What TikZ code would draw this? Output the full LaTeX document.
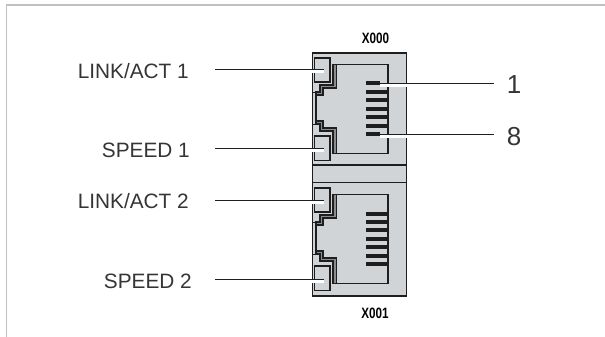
\documentclass[tikz,border=0pt]{standalone}
\usepackage{fontspec}
\setmainfont{Liberation Sans}
\newfontfamily\narrowfont[FakeStretch=0.78]{Liberation Sans}
\definecolor{housinggray}{HTML}{D1D4D7}
\definecolor{framegray}{HTML}{BCC1C4}
\definecolor{inkgray}{HTML}{1E1E1E}
\tikzset{
	label text/.style={inner sep=0pt, font=\fontsize{20.8}{24}\selectfont, text=inkgray!90},
	pin text/.style={inner sep=0pt, font=\fontsize{26}{30}\selectfont, text=inkgray!90},
	port name/.style={inner sep=0pt, font=\narrowfont\bfseries\fontsize{15}{17}\selectfont, text=black},
	outline/.style={line width=1.2pt, draw=inkgray},
	leader/.style={line width=1pt, draw=inkgray},
	halo/.style={line width=3.2pt, draw=white},
}
\begin{document}
\begin{tikzpicture}[x=1pt, y=-1pt]
		%%%%% START %%%%%
		\useasboundingbox (0, 0) rectangle (605, 337);

		\draw[line width=1.6pt, color=framegray] (605, 5) -- (6.5, 5) -- (6.5, 337);

		\draw[outline, fill=housinggray] (312.5, 53) rectangle (406.5, 296);
		\draw[outline] (312.5, 165) -- (406.5, 165);
		\draw[outline] (312.5, 182.5) -- (406.5, 182.5);

		\foreach \portY in {0, 130} {
			\begin{scope}[shift={(0, \portY)}]
				\draw[outline, fill=black!45] (333, 64.5) -- (333, 85) -- (320, 85) -- (320, 92) -- (316, 92) -- (316, 124) -- (320, 124) -- (320, 131) -- (333, 131) -- (333, 153.5) -- (388, 153.5) -- (388, 64.5) -- cycle;
				\draw[outline, fill=housinggray] (336.5, 64.5) -- (336.5, 88) -- (323, 88) -- (323, 95) -- (316, 95) -- (316, 121) -- (323, 121) -- (323, 128) -- (336.5, 128) -- (336.5, 153.5) -- (388, 153.5) -- (388, 64.5) -- cycle;
				\draw[outline, line width=1.5pt, fill=housinggray] (314.5, 58) rectangle (330, 82);
				\draw[outline, line width=1.5pt, fill=housinggray] (314.5, 136) rectangle (330, 160.5);
				\draw[line width=0.8pt, draw=inkgray] (312.5, 92) -- (320, 92);
				\draw[line width=0.8pt, draw=inkgray] (312.5, 124) -- (320, 124);
			\end{scope}
		}

		% pins of the upper jack, first and last are short
		\foreach \pinY in {91.7, 100.3, 108.7, 117, 125.7} {
			\fill[color=inkgray] (366, \pinY-2) rectangle (387.5, \pinY+2);
		}
		\fill[color=inkgray] (366, 81.3) rectangle (380, 85.3);
		\fill[color=inkgray] (366, 132.3) rectangle (380, 136.3);
		% pins of the lower jack
		\foreach \pinY in {213.5, 221.7, 230.3, 239, 247.3, 255.7, 264.3} {
			\fill[color=inkgray] (366, \pinY-2) rectangle (387.5, \pinY+2);
		}

		\node[port name] (xzero) at (375.5, 38.3) {X000};
		\node[port name] (xone) at (375, 313) {X001};

		\node[label text, anchor=east] (linkone) at (189, 71) {LINK/ACT 1};
		\node[label text, anchor=east] (speedone) at (190, 150) {SPEED 1};
		\node[label text, anchor=east] (linktwo) at (189, 201.5) {LINK/ACT 2};
		\node[label text, anchor=east] (speedtwo) at (192, 281.5) {SPEED 2};
		\node[pin text] (pinone) at (514, 84.5) {1};
		\node[pin text] (pineight) at (514, 137) {8};

		\coordinate (linkonefrom) at (215, 69.5);
		\coordinate (linkoneto) at (323.5, 69.5);
		\coordinate (speedonefrom) at (215, 148);
		\coordinate (speedoneto) at (323.5, 148);
		\coordinate (linktwofrom) at (215, 200);
		\coordinate (linktwoto) at (323.5, 200);
		\coordinate (speedtwofrom) at (215, 279);
		\coordinate (speedtwoto) at (323.5, 279);
		\coordinate (pinonefrom) at (380, 83.3);
		\coordinate (pinoneto) at (493.5, 83.3);
		\coordinate (pineightfrom) at (380, 134.3);
		\coordinate (pineightto) at (493.5, 134.3);

		\foreach \a/\b in {linkonefrom/linkoneto, speedonefrom/speedoneto, linktwofrom/linktwoto, speedtwofrom/speedtwoto, pinonefrom/pinoneto, pineightfrom/pineightto} {
			\draw[halo] ([yshift=-2.1pt]\a) -- ([yshift=-2.1pt]\b);
			\draw[leader] (\a) -- (\b);
		}
		%%%%% END %%%%%
	\end{tikzpicture}
\end{document}
